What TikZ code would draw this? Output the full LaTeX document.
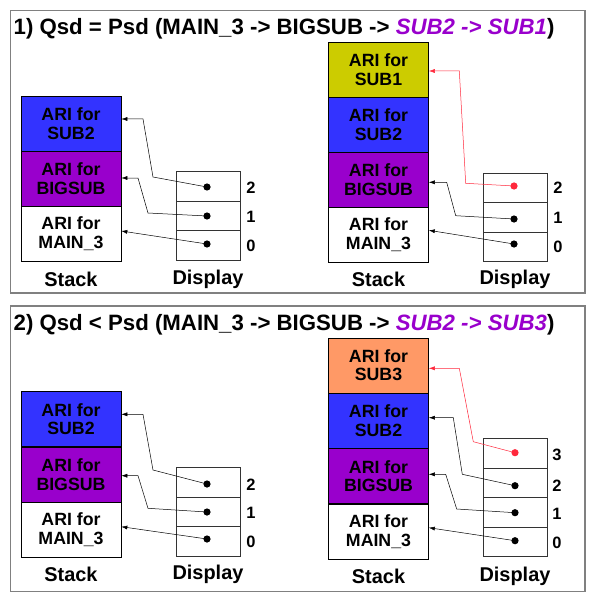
\documentclass[tikz,border=0pt]{standalone}
\usepackage{fontspec}
\setmainfont{Liberation Sans}
\usetikzlibrary{arrows.meta}

\definecolor{subblue}{RGB}{51,51,255}
\definecolor{bigpurple}{RGB}{153,0,204}
\definecolor{subolive}{RGB}{204,204,0}
\definecolor{suborange}{RGB}{255,153,102}
\definecolor{framegray}{RGB}{128,128,128}
\definecolor{linkred}{RGB}{255,40,60}

\tikzset{
  ari/.style={draw=black,line width=0.6bp,minimum width=100bp,minimum height=55bp,
    inner sep=0pt,align=center,font=\fontsize{17.8}{18.8}\selectfont\bfseries},
  cell/.style={draw=black!80,line width=0.6bp,minimum width=64bp,minimum height=29.4bp,inner sep=0pt},
  dot/.style={circle,fill=black,inner sep=0pt,minimum size=7.2bp},
  idx/.style={font=\fontsize{16.5}{18}\selectfont\bfseries},
  lbl/.style={font=\fontsize{20}{22}\selectfont\bfseries},
  ptr/.style={-{Latex[length=6bp,width=4bp]},line width=0.5bp},
  headline/.style={anchor=base west,inner sep=0pt,font=\fontsize{22.3}{26}\selectfont\bfseries},
}

\begin{document}
\begin{tikzpicture}[x=1bp,y=-1bp]
  \path[use as bounding box] (0,0) rectangle (598,600);
  \fill[white] (0,0) rectangle (598,600);

  % panel 1
  \draw[framegray,line width=1.2bp] (10.5,10.5) rectangle (585,293);
  \node[headline] (t1) at (13.5,35) {1) Qsd = Psd (MAIN\_3 -> BIGSUB -> \textcolor{bigpurple}{\itshape SUB2 -> SUB1})};

  \node[ari,fill=subblue]   (a-sub2) at (71,123.5) {ARI for\\SUB2};
  \node[ari,fill=bigpurple] (a-big)  at (71,178.5) {ARI for\\BIGSUB};
  \node[ari,fill=white]     (a-main) at (71,233.5) {ARI for\\MAIN\_3};
  \node[lbl] (a-stack) at (71,279) {Stack};

  \node[cell] (a-c2) at (208,186.5) {};
  \node[cell] (a-c1) at (208,215.9) {};
  \node[cell] (a-c0) at (208,245.3) {};
  \node[dot] (a-p2) at (207,187) {};
  \node[dot] (a-p1) at (207,216) {};
  \node[dot] (a-p0) at (207,244) {};
  \node[idx] (a-n2) at (251,188) {2};
  \node[idx] (a-n1) at (251,217) {1};
  \node[idx] (a-n0) at (251,246) {0};
  \node[lbl] (a-disp) at (208,279) {Display};

  \draw[ptr] (a-p2.center) -- (153,177) -- (143,119) -- (a-sub2.east |- 143,119);
  \draw[ptr] (a-p1.center) -- (148,213) -- (138,178) -- (a-big.east |- 138,178);
  \draw[ptr] (a-p0.center) -- (a-main.east |- 121,231);

  \node[ari,fill=subolive]  (b-sub1) at (378.5,69.5)  {ARI for\\SUB1};
  \node[ari,fill=subblue]   (b-sub2) at (378.5,124.5) {ARI for\\SUB2};
  \node[ari,fill=bigpurple] (b-big)  at (378.5,179.5) {ARI for\\BIGSUB};
  \node[ari,fill=white]     (b-main) at (378.5,234.5) {ARI for\\MAIN\_3};
  \node[lbl] (b-stack) at (378.5,279) {Stack};

  \node[cell] (b-c2) at (515.4,187.8) {};
  \node[cell] (b-c1) at (515.4,217.2) {};
  \node[cell] (b-c0) at (515.4,246.6) {};
  \node[dot,fill=linkred] (b-p2) at (514,186) {};
  \node[dot] (b-p1) at (514,219) {};
  \node[dot] (b-p0) at (514,244) {};
  \node[idx] (b-n2) at (558,188) {2};
  \node[idx] (b-n1) at (558,218) {1};
  \node[idx] (b-n0) at (558,247) {0};
  \node[lbl] (b-disp) at (515,279) {Display};

  \draw[ptr,linkred] (b-p2.center) -- (465.7,183.3) -- (459.3,71) -- (b-sub1.east |- 459.3,71);
  \draw[ptr] (b-p1.center) -- (455.7,215.7) -- (446.7,182.3) -- (b-big.east |- 446.7,182.3);
  \draw[ptr] (b-p0.center) -- (b-main.east |- 429,230.3);

  % panel 2
  \draw[framegray,line width=1.2bp] (10.5,306) rectangle (585,591.5);
  \node[headline] (t2) at (13.5,330.5) {2) Qsd < Psd (MAIN\_3 -> BIGSUB -> \textcolor{bigpurple}{\itshape SUB2 -> SUB3})};

  \node[ari,fill=subblue]   (c-sub2) at (71,419.2) {ARI for\\SUB2};
  \node[ari,fill=bigpurple] (c-big)  at (71,474.4) {ARI for\\BIGSUB};
  \node[ari,fill=white]     (c-main) at (71,529.6) {ARI for\\MAIN\_3};
  \node[lbl] (c-stack) at (71,574.5) {Stack};

  \node[cell] (c-c2) at (208,482.3) {};
  \node[cell] (c-c1) at (208,511.7) {};
  \node[cell] (c-c0) at (208,541.1) {};
  \node[dot] (c-p2) at (207,484) {};
  \node[dot] (c-p1) at (207,512) {};
  \node[dot] (c-p0) at (207,539) {};
  \node[idx] (c-n2) at (251,485) {2};
  \node[idx] (c-n1) at (251,513) {1};
  \node[idx] (c-n0) at (251,542) {0};
  \node[lbl] (c-disp) at (208,574.5) {Display};

  \draw[ptr] (c-p2.center) -- (153,470) -- (143,414.3) -- (c-sub2.east |- 143,414.3);
  \draw[ptr] (c-p1.center) -- (148,508.3) -- (138,475.7) -- (c-big.east |- 138,475.7);
  \draw[ptr] (c-p0.center) -- (c-main.east |- 121,526.7);

  \node[ari,fill=suborange] (d-sub3) at (378.5,365.3) {ARI for\\SUB3};
  \node[ari,fill=subblue]   (d-sub2) at (378.5,420.7) {ARI for\\SUB2};
  \node[ari,fill=bigpurple] (d-big)  at (378.5,476.1) {ARI for\\BIGSUB};
  \node[ari,fill=white]     (d-main) at (378.5,531.5) {ARI for\\MAIN\_3};
  \node[lbl] (d-stack) at (378.5,576) {Stack};

  \node[cell] (d-c3) at (515.4,453.3) {};
  \node[cell] (d-c2) at (515.4,482.7) {};
  \node[cell] (d-c1) at (515.4,512.1) {};
  \node[cell] (d-c0) at (515.4,541.5) {};
  \node[dot,fill=linkred] (d-p3) at (515,452.7) {};
  \node[dot] (d-p2) at (515,485.7) {};
  \node[dot] (d-p1) at (515,512.7) {};
  \node[dot] (d-p0) at (515,540.7) {};
  \node[idx] (d-n3) at (557,455) {3};
  \node[idx] (d-n2) at (557,486) {2};
  \node[idx] (d-n1) at (557,514) {1};
  \node[idx] (d-n0) at (557,543) {0};
  \node[lbl] (d-disp) at (515,576) {Display};

  \draw[ptr,linkred] (d-p3.center) -- (473.3,441.7) -- (459.3,368.3) -- (d-sub3.east |- 459.3,368.3);
  \draw[ptr] (d-p2.center) -- (462.3,474.3) -- (453.3,417.7) -- (d-sub2.east |- 453.3,417.7);
  \draw[ptr] (d-p1.center) -- (456.7,509) -- (445.7,474.3) -- (d-big.east |- 445.7,474.3);
  \draw[ptr] (d-p0.center) -- (d-main.east |- 429,527.7);
\end{tikzpicture}
\end{document}
